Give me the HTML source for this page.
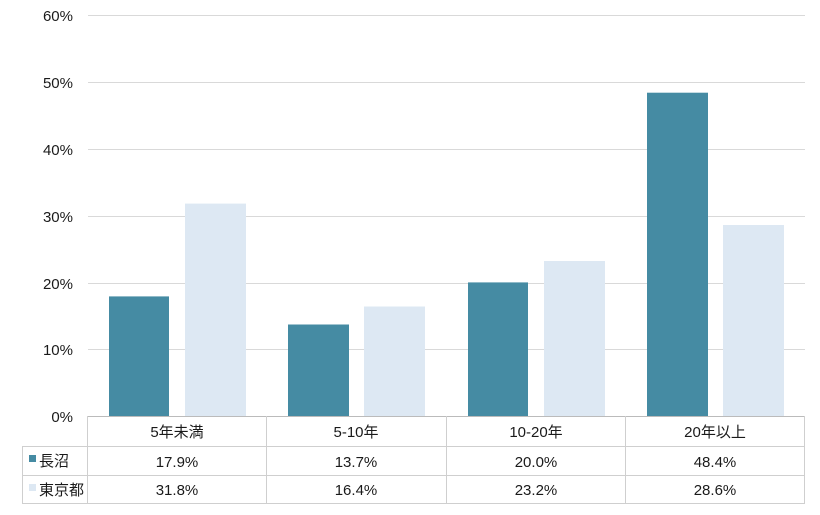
<!DOCTYPE html>
<html><head><meta charset="utf-8"><style>
body{margin:0;background:#fff;}
svg text{font-family:"Liberation Sans","Noto Sans CJK JP",sans-serif;font-size:15px;fill:#1a1a1a;}
</style></head><body>
<svg width="820" height="510" xmlns="http://www.w3.org/2000/svg">
<g stroke="#d9d9d9" stroke-width="1">
<line x1="88" y1="15.5" x2="805" y2="15.5"/>
<line x1="88" y1="82.5" x2="805" y2="82.5"/>
<line x1="88" y1="149.5" x2="805" y2="149.5"/>
<line x1="88" y1="216.5" x2="805" y2="216.5"/>
<line x1="88" y1="283.5" x2="805" y2="283.5"/>
<line x1="88" y1="349.5" x2="805" y2="349.5"/>
</g>
<g text-anchor="end">
<text x="73" y="21">60%</text><text x="73" y="88">50%</text><text x="73" y="155">40%</text>
<text x="73" y="222">30%</text><text x="73" y="289">20%</text><text x="73" y="355">10%</text>
<text x="73" y="422">0%</text>
</g>
<g fill="#458ba3">
<rect x="109" y="296.4" width="60" height="119.6"/>
<rect x="288" y="324.5" width="61" height="91.5"/>
<rect x="468" y="282.4" width="60" height="133.6"/>
<rect x="647" y="92.7" width="61" height="323.3"/>
</g>
<g fill="#dde8f3">
<rect x="185" y="203.6" width="61" height="212.4"/>
<rect x="364" y="306.5" width="61" height="109.5"/>
<rect x="544" y="261" width="61" height="155"/>
<rect x="723" y="225" width="61" height="191"/>
</g>
<g stroke="#cfcfcf" stroke-width="1" fill="none">
<line x1="88" y1="416.5" x2="805" y2="416.5" stroke="#bbb"/>
<line x1="22" y1="446.5" x2="805" y2="446.5"/>
<line x1="22" y1="475.5" x2="805" y2="475.5"/>
<line x1="22" y1="503.5" x2="805" y2="503.5"/>
<line x1="22.5" y1="446" x2="22.5" y2="504"/>
<line x1="87.5" y1="416" x2="87.5" y2="504"/>
<line x1="266.5" y1="416" x2="266.5" y2="504"/>
<line x1="446.5" y1="416" x2="446.5" y2="504"/>
<line x1="625.5" y1="416" x2="625.5" y2="504"/>
<line x1="804.5" y1="416" x2="804.5" y2="504"/>
</g>
<g text-anchor="middle">
<text x="177" y="437">5年未満</text><text x="356" y="437">5-10年</text>
<text x="536" y="437">10-20年</text><text x="715" y="437">20年以上</text>
<text x="177" y="467">17.9%</text><text x="356" y="467">13.7%</text>
<text x="536" y="467">20.0%</text><text x="715" y="467">48.4%</text>
<text x="177" y="495">31.8%</text><text x="356" y="495">16.4%</text>
<text x="536" y="495">23.2%</text><text x="715" y="495">28.6%</text>
</g>
<rect x="29" y="455" width="7" height="7" fill="#458ba3"/>
<text x="39" y="466">長沼</text>
<rect x="29" y="484" width="7" height="7" fill="#dde8f3"/>
<text x="39" y="495">東京都</text>
</svg>
</body></html>
